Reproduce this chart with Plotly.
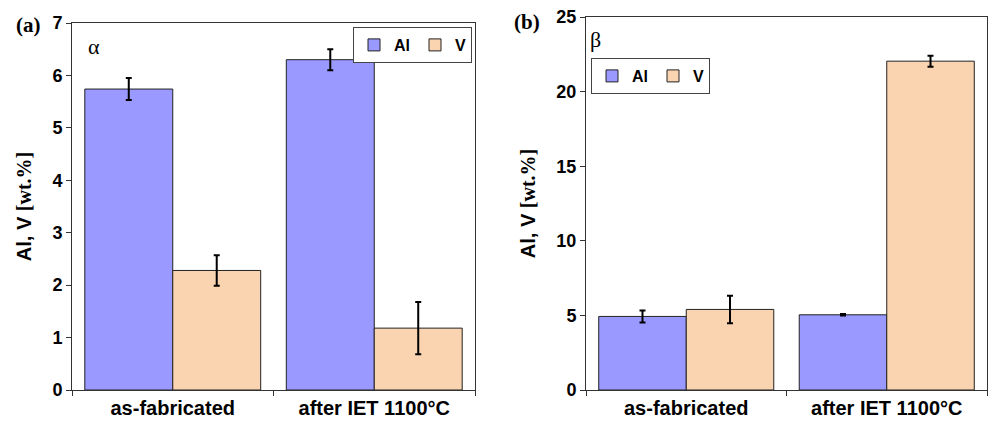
import plotly.graph_objects as go

categories = ["as-fabricated", "after IET 1100°C"]

# Panel (a): alpha phase
a_al = [5.74, 6.30]
a_al_err = [0.21, 0.20]
a_v = [2.28, 1.18]
a_v_err = [0.29, 0.50]

# Panel (b): beta phase
b_al = [4.93, 5.04]
b_al_err = [0.40, 0.05]
b_v = [5.40, 22.04]
b_v_err = [0.92, 0.37]

a_ticks = [0, 1, 2, 3, 4, 5, 6, 7]
b_ticks = [0, 5, 10, 15, 20, 25]

AL_COLOR = "#9999FF"
V_COLOR = "#FAD3B0"
W, H = 992, 421

def px_x(x):
    return x / W

def px_y(y):
    return (H - y) / H

err_style = dict(type="data", color="black", thickness=2, width=3, visible=True)
bar_line = dict(color="#222222", width=1)

fig = go.Figure()
fig.add_trace(go.Bar(x=categories, y=a_al, name="Al", marker=dict(color=AL_COLOR, line=bar_line),
                     error_y=dict(array=a_al_err, **err_style), xaxis="x", yaxis="y", legend="legend"))
fig.add_trace(go.Bar(x=categories, y=a_v, name="V", marker=dict(color=V_COLOR, line=bar_line),
                     error_y=dict(array=a_v_err, **err_style), xaxis="x", yaxis="y", legend="legend"))
fig.add_trace(go.Bar(x=categories, y=b_al, name="Al", marker=dict(color=AL_COLOR, line=bar_line),
                     error_y=dict(array=b_al_err, **err_style), xaxis="x2", yaxis="y2", legend="legend2"))
fig.add_trace(go.Bar(x=categories, y=b_v, name="V", marker=dict(color=V_COLOR, line=bar_line),
                     error_y=dict(array=b_v_err, **err_style), xaxis="x2", yaxis="y2", legend="legend2"))

tick_font = dict(family="Liberation Sans", size=18, color="black", weight="bold")
xtick_font = dict(family="Liberation Sans", size=20, color="black", weight="bold")
title_font = dict(family="Liberation Sans", size=20, color="black", weight="bold")
ytitle = ("Al, V <span style='font-family:Liberation Serif;font-weight:bold'>"
          "[wt.%]</span>")

axis_common = dict(showline=True, linecolor="#333333", linewidth=1, mirror=True,
                   showgrid=False, zeroline=False, ticks="outside", ticklen=5,
                   tickcolor="#333333", automargin=False)

legend_font = dict(family="Liberation Sans", size=16, color="black", weight="bold")

fig.update_layout(
    width=W, height=H,
    margin=dict(l=0, r=0, t=0, b=0),
    paper_bgcolor="white", plot_bgcolor="white",
    barmode="group", bargap=0.127, bargroupgap=0,
    xaxis=dict(domain=[px_x(72), px_x(475)], anchor="y", tickson="boundaries",
               tickfont=xtick_font, **axis_common),
    yaxis=dict(domain=[px_y(390), px_y(23)], anchor="x", range=[0, 7], tickvals=a_ticks,
               tickfont=tick_font, title=dict(text=ytitle, font=title_font, standoff=15),
               **axis_common),
    xaxis2=dict(domain=[px_x(586), px_x(987)], anchor="y2", tickson="boundaries",
                tickfont=xtick_font, **axis_common),
    yaxis2=dict(domain=[px_y(390), px_y(17)], anchor="x2", range=[0, 25], tickvals=b_ticks,
                tickfont=tick_font, title=dict(text=ytitle, font=title_font, standoff=15),
                **axis_common),
    legend=dict(orientation="h", x=px_x(353), y=px_y(27), xanchor="left", yanchor="top",
                bordercolor="#444444", borderwidth=1, bgcolor="white", itemwidth=30,
                font=legend_font),
    legend2=dict(orientation="h", x=px_x(591), y=px_y(58), xanchor="left", yanchor="top",
                 bordercolor="#444444", borderwidth=1, bgcolor="white", itemwidth=30,
                 font=legend_font),
    showlegend=True,
)

ann_font_lbl = dict(family="Liberation Serif", size=21, color="black", weight="bold")
ann_font_phase = dict(family="Liberation Serif", size=22, color="black")
fig.add_annotation(text="(a)", xref="paper", yref="paper", x=px_x(14), y=px_y(25),
                   xanchor="left", yanchor="middle", showarrow=False, font=ann_font_lbl)
fig.add_annotation(text="(b)", xref="paper", yref="paper", x=px_x(512), y=px_y(22),
                   xanchor="left", yanchor="middle", showarrow=False, font=ann_font_lbl)
fig.add_annotation(text="α", xref="paper", yref="paper", x=px_x(86), y=px_y(46),
                   xanchor="left", yanchor="middle", showarrow=False, font=ann_font_phase)
fig.add_annotation(text="β", xref="paper", yref="paper", x=px_x(588), y=px_y(40),
                   xanchor="left", yanchor="middle", showarrow=False, font=ann_font_phase)

fig.write_html("out.html")
